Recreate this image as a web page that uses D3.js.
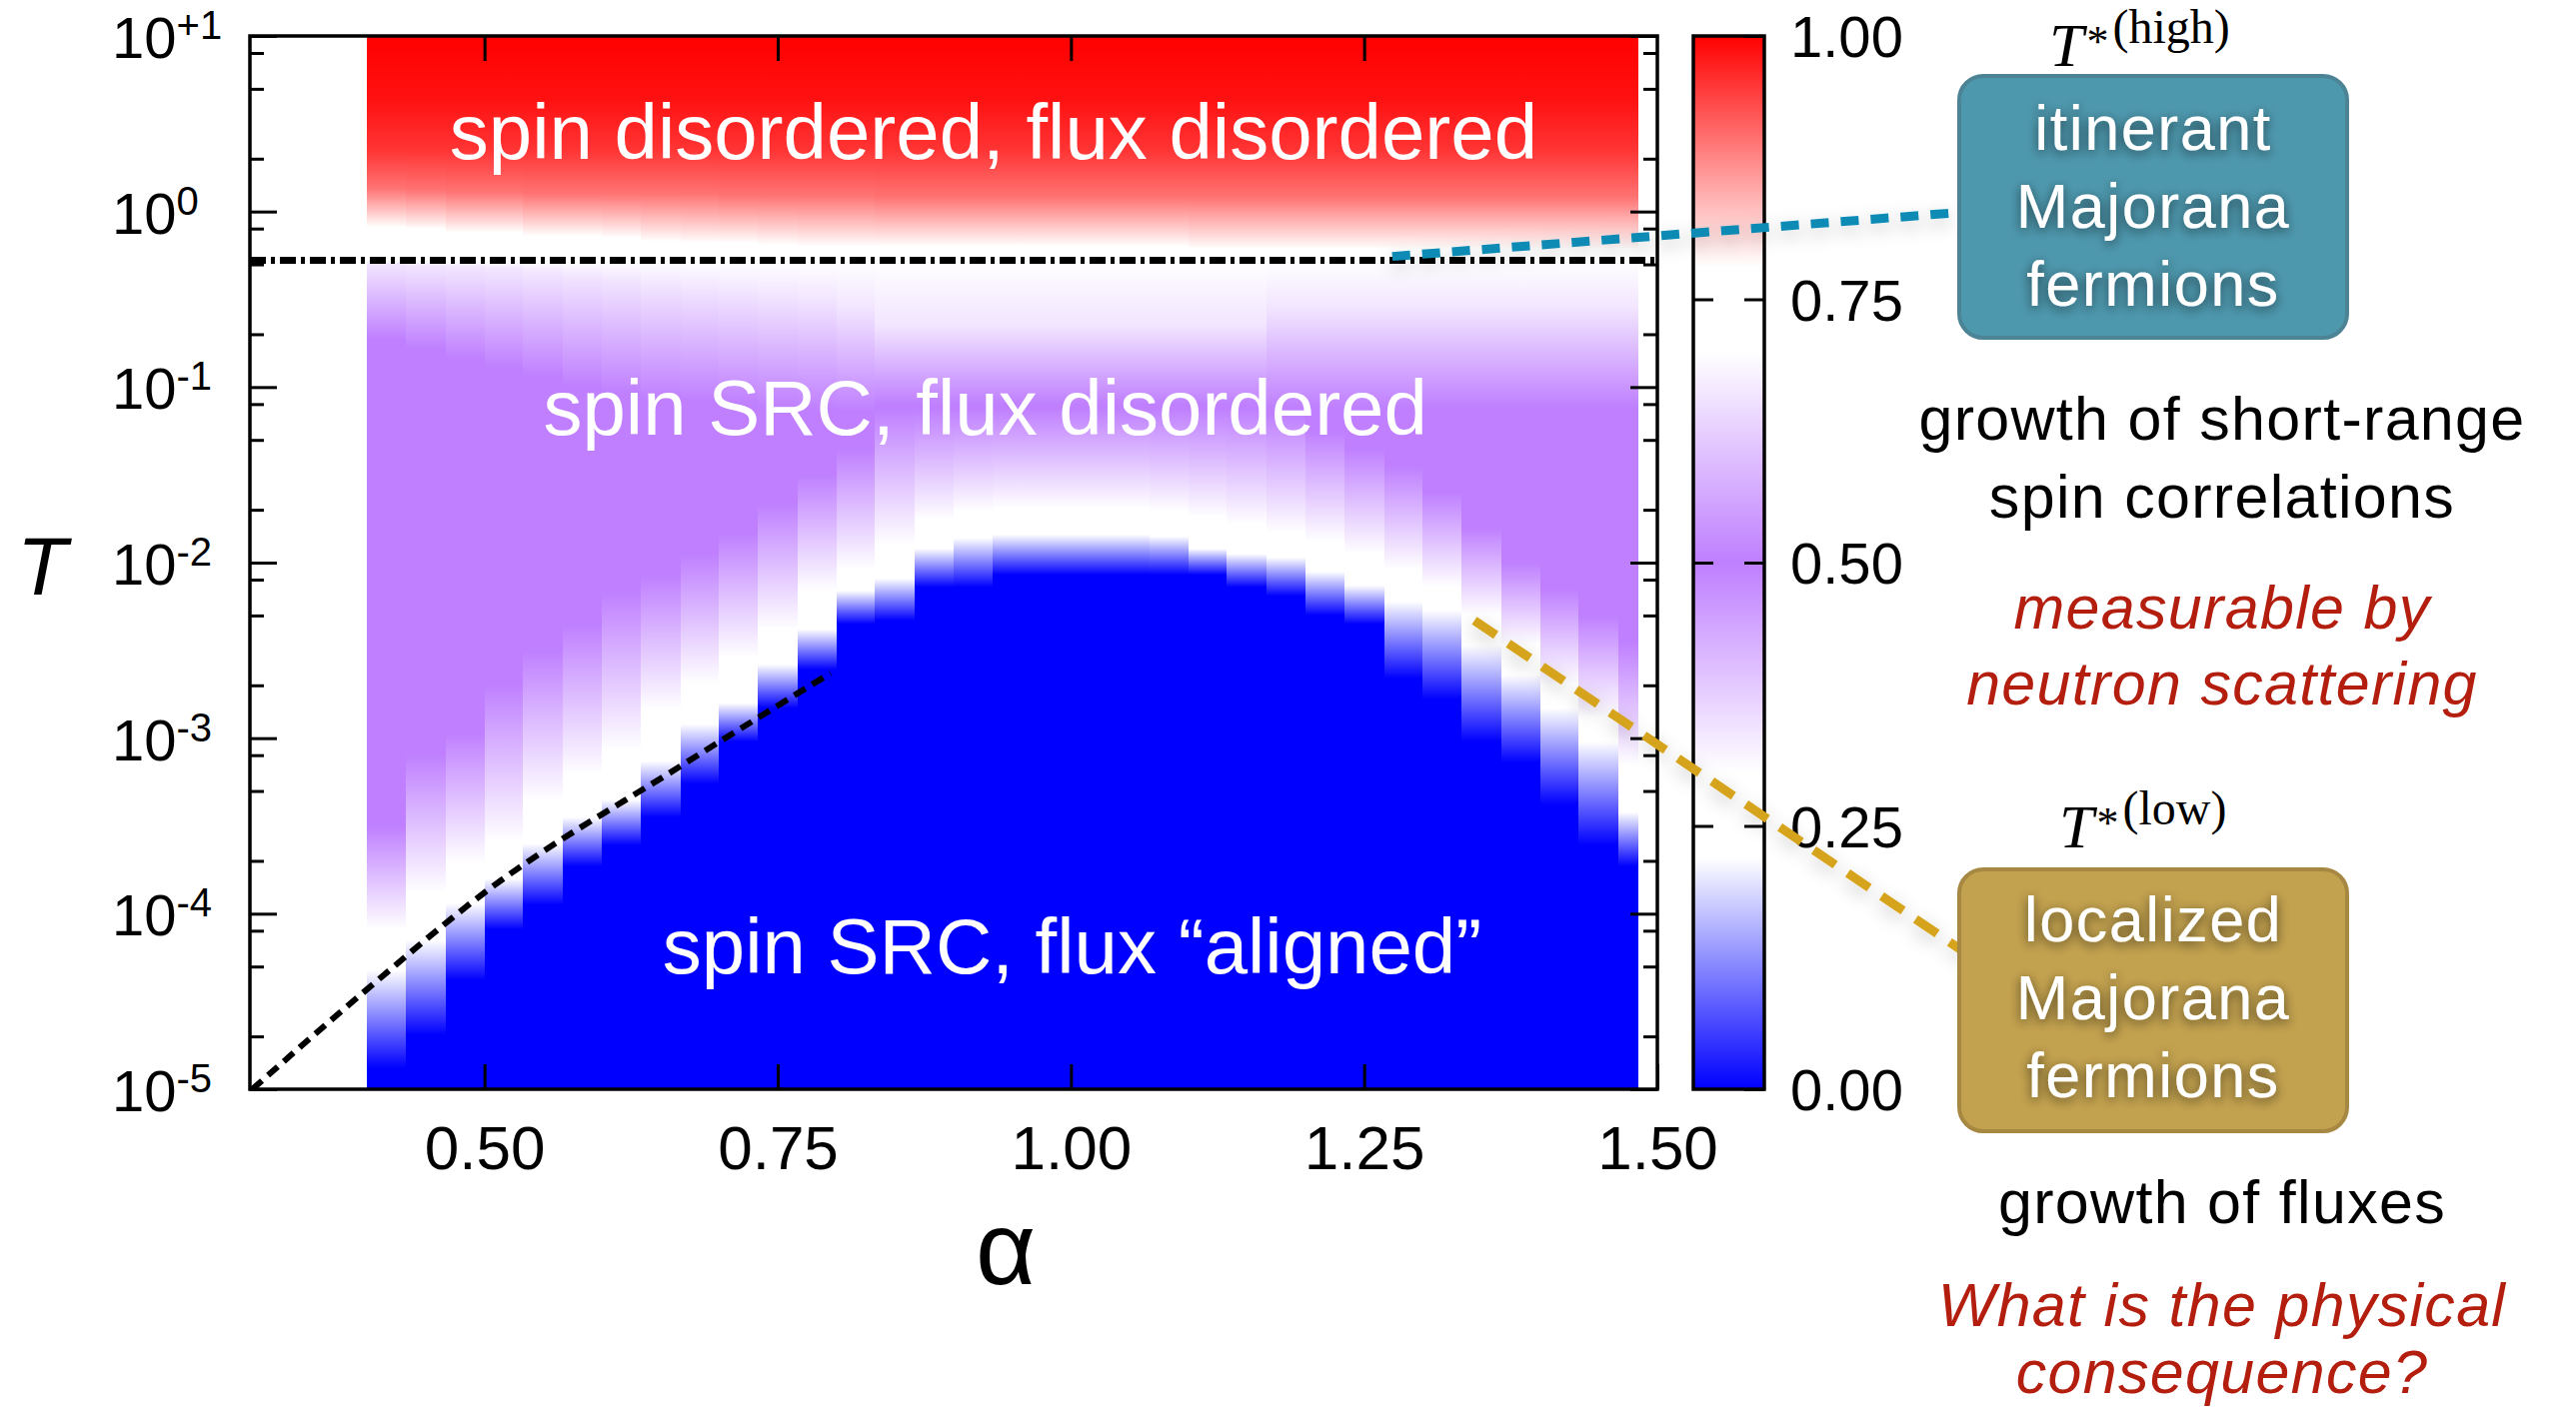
<!DOCTYPE html>
<html lang="en">
<head>
<meta charset="utf-8">
<title>alpha - T map</title>
<script src="https://d3js.org/d3.v7.min.js"></script>
<style>
  body{margin:0;background:#fff;}
  svg{display:block;font-family:"Liberation Sans",Arial,Helvetica,sans-serif;}
</style>
</head>
<body>
<div id="chart"></div>
<script>
// left edge of every alpha strip of the map (last strip stops at alphaEnd)
var alphaCols = [0.400,0.433,0.467,0.500,0.533,0.567,0.600,0.633,0.667,0.700,0.733,0.767,0.800,0.833,0.867,0.900,0.933,
                 0.967,1.000,1.033,1.067,1.100,1.133,1.167,1.200,1.233,1.267,1.300,1.333,1.367,1.400,1.433,1.467]
var alphaEnd = 1.483

// log10(T) where each strip passes a given value of the colour scale
var redTop = [[1, 1.0], [0.64, 0.985], [0.35, 0.955]]   // same for all strips
var redMid = [0.13,0.12,0.11,0.11,0.10,0.10,0.10,0.10,0.10,0.09,0.09,0.09,0.09,0.08,0.08,0.08,0.08,
              0.08,0.08,0.08,0.08,0.08,0.08,0.08,0.08,0.08,0.08,0.08,0.08,0.08,0.08,0.08,0.08]          // 0.90
var redEnd = [-0.09,-0.10,-0.12,-0.12,-0.14,-0.14,-0.15,-0.17,-0.18,-0.18,-0.19,-0.20,-0.20,-0.20,-0.20,-0.20,-0.20,
              -0.20,-0.20,-0.20,-0.20,-0.215,-0.215,-0.215,-0.215,-0.215,-0.215,-0.215,-0.215,-0.215,-0.215,-0.215,-0.215] // 0.78
var lavTop = [-0.30,-0.31,-0.32,-0.33,-0.35,-0.37,-0.39,-0.42,-0.44,-0.46,-0.48,-0.50,-0.55,-0.65,-0.65,-0.65,-0.65,
              -0.65,-0.65,-0.65,-0.65,-0.65,-0.65,-0.55,-0.55,-0.55,-0.55,-0.55,-0.55,-0.55,-0.55,-0.55,-0.55]   // 0.66
var purTop = [-0.73,-0.78,-0.84,-0.89,-0.94,-1.00,-1.04,-1.07,-1.08,-1.10,-1.12,-1.13,-1.14,-1.10,-1.10,-1.10,-1.10,
              -1.10,-1.10,-1.10,-1.10,-1.10,-1.10,-1.12,-1.12,-1.12,-1.12,-1.12,-1.12,-1.12,-1.12,-1.12,-1.12]   // 0.50
var purBot = [-3.50,-3.09,-2.97,-2.69,-2.50,-2.35,-2.16,-2.07,-1.95,-1.83,-1.66,-1.50,-1.35,-1.12,-1.12,-1.12,-1.12,
              -1.12,-1.12,-1.12,-1.12,-1.12,-1.12,-1.15,-1.25,-1.35,-1.45,-1.60,-1.80,-2.00,-2.15,-2.30,-2.45]   // 0.50
var whtTop = [-4.09,-3.88,-3.71,-3.59,-3.36,-3.21,-3.07,-2.84,-2.69,-2.54,-2.38,-2.16,-2.04,-1.90,-1.76,-1.71,-1.69,
              -1.69,-1.69,-1.69,-1.71,-1.74,-1.78,-1.83,-1.88,-1.95,-2.04,-2.14,-2.30,-2.47,-2.69,-2.88,-3.16]   // 0.30
var whtBot = [-4.32,-4.15,-3.94,-3.80,-3.60,-3.45,-3.35,-3.13,-2.92,-2.80,-2.58,-2.38,-2.16,-2.09,-1.92,-1.86,-1.84,
              -1.84,-1.84,-1.84,-1.85,-1.92,-1.95,-1.97,-2.05,-2.13,-2.22,-2.27,-2.47,-2.64,-2.83,-3.02,-3.42]   // 0.22
var bluBot = [-4.88,-4.69,-4.38,-4.09,-3.95,-3.73,-3.61,-3.45,-3.26,-3.02,-2.83,-2.61,-2.35,-2.33,-2.14,-2.14,-2.07,
              -2.07,-2.07,-2.07,-2.07,-2.07,-2.14,-2.19,-2.30,-2.35,-2.66,-2.78,-3.02,-3.14,-3.38,-3.61,-3.73]   // 0.00

// T*(high): dash-dot line, log10 T
var tHigh = -0.278
// T*(low) guide line (black dashes)
var lowAlpha = [0.302, 0.40, 0.50, 0.667, 0.795]
var lowLogT  = [-5.0, -4.43, -3.88, -3.16, -2.63]

var xTicks = [0.5, 0.75, 1.0, 1.25, 1.5]
var yDecades = [1, 0, -1, -2, -3, -4, -5]
var yMinor = [2, 5, 8]
var cbTicks = [0, 0.25, 0.5, 0.75, 1]
var cmapVals = [0, 0.22, 0.30, 0.50, 0.70, 0.78, 1]
var cmapCols = ["#0000ff", "#ffffff", "#ffffff", "#bf7fff", "#ffffff", "#ffffff", "#ff0000"]

// annotation anchors in data units [alpha, log10 T]
var highAnchor = [1.274, -0.256]
var lowAnchor = [1.344, -2.33]

var W = 2577, H = 1411
var svg = d3.select("#chart").append("svg").attr("width", W).attr("height", H)
svg.append("rect").attr("width", W).attr("height", H).attr("fill", "#fff")
var defs = svg.append("defs")

var x = d3.scaleLinear().domain([0.3, 1.5]).range([250, 1658])
var y = d3.scaleLog().domain([1e-5, 10]).range([1090, 36])
var color = d3.scaleLinear().domain(cmapVals).range(cmapCols)
var ly = function(l){ return y(Math.pow(10, l)) }

// ---- heat map, one vertical gradient per alpha strip
var yTop = y(10), yBot = y(1e-5)
alphaCols.forEach(function(a, i){
    var stops = redTop.concat([[redMid[i], 0.9], [redEnd[i], 0.78], [tHigh, 0.73], [lavTop[i], 0.66],
        [purTop[i], 0.5], [purBot[i], 0.5], [whtTop[i], 0.30], [whtBot[i], 0.22], [bluBot[i], 0], [-5, 0]])
    var g = defs.append("linearGradient").attr("id", "col" + i)
        .attr("gradientUnits", "userSpaceOnUse")
        .attr("x1", 0).attr("x2", 0).attr("y1", yTop).attr("y2", yBot)
    g.selectAll("stop").data(stops).enter().append("stop")
        .attr("offset", function(d){ return (ly(d[0]) - yTop) / (yBot - yTop) })
        .attr("stop-color", function(d){ return color(d[1]) })
})
svg.append("g").selectAll("rect").data(alphaCols).enter().append("rect")
    .attr("x", function(d){ return x(d) })
    .attr("width", function(d, i){ var nx = i < alphaCols.length - 1 ? alphaCols[i + 1] : alphaEnd; return x(nx) - x(d) + 0.6 })
    .attr("y", yTop).attr("height", yBot - yTop)
    .attr("fill", function(d, i){ return "url(#col" + i + ")" })
    .attr("shape-rendering", "crispEdges")

// ---- lines inside the map
svg.append("line")
    .attr("x1", x(0.3)).attr("x2", x(1.5)).attr("y1", ly(tHigh)).attr("y2", ly(tHigh))
    .attr("stroke", "#000").attr("stroke-width", 7).attr("stroke-dasharray", "16,5,4,5")

svg.append("path")
    .datum(lowAlpha.map(function(a, i){ return [a, lowLogT[i]] }))
    .attr("d", d3.line().x(function(d){ return x(d[0]) }).y(function(d){ return ly(d[1]) }).curve(d3.curveMonotoneX))
    .attr("fill", "none").attr("stroke", "#000").attr("stroke-width", 6).attr("stroke-dasharray", "13,8")

// ---- region labels
var regions = [
    {t: "spin disordered, flux disordered", a: 0.934, l: 0.30},
    {t: "spin SRC, flux disordered", a: 0.927, l: -1.27},
    {t: "spin SRC, flux \u201caligned\u201d", a: 1.001, l: -4.34}
]
svg.append("g").selectAll("text").data(regions).enter().append("text")
    .attr("x", function(d){ return x(d.a) }).attr("y", function(d){ return ly(d.l) })
    .attr("text-anchor", "middle").attr("font-size", 78).attr("fill", "#fff")
    .text(function(d){ return d.t })

// ---- frame and ticks
var axStyle = function(g){
    g.select(".domain").remove()
    g.selectAll(".tick line").attr("stroke", "#000").attr("stroke-width", 3)
}
svg.append("g").attr("transform", "translate(0,1090)")
    .call(d3.axisBottom(x).tickValues(xTicks).tickSize(-25).tickPadding(36).tickFormat(d3.format(".2f")))
    .call(axStyle)
    .selectAll("text").attr("font-size", 62).attr("fill", "#000").attr("font-family", "Liberation Sans, Arial, sans-serif")
svg.append("g").attr("transform", "translate(0,36)")
    .call(d3.axisTop(x).tickValues(xTicks.slice(0, 4)).tickSize(-25).tickFormat(""))
    .call(axStyle)

var minorVals = []
yDecades.slice(1).forEach(function(d){ yMinor.forEach(function(m){ minorVals.push(m * Math.pow(10, d)) }) })
var majorVals = yDecades.map(function(d){ return Math.pow(10, d) })
;[[d3.axisLeft, 250], [d3.axisRight, 1658]].forEach(function(p){
    svg.append("g").attr("transform", "translate(" + p[1] + ",0)")
        .call(p[0](y).tickValues(majorVals).tickSize(-27).tickFormat("")).call(axStyle)
    svg.append("g").attr("transform", "translate(" + p[1] + ",0)")
        .call(p[0](y).tickValues(minorVals).tickSize(-14).tickFormat("")).call(axStyle)
})
svg.append("rect").attr("x", 250).attr("y", 36).attr("width", 1408).attr("height", 1054)
    .attr("fill", "none").attr("stroke", "#000").attr("stroke-width", 3.5)

// y tick labels 10^n
var yl = svg.append("g").selectAll("text").data(yDecades).enter().append("text")
    .attr("x", 112).attr("y", function(d){ return y(Math.pow(10, d)) + 22 })
    .attr("font-size", 58).attr("fill", "#000")
yl.append("tspan").text("10")
yl.append("tspan").attr("font-size", 40).attr("dy", -19)
    .text(function(d){ return d > 0 ? "+" + d : String(d) })

// axis titles
svg.append("text").attr("x", 42).attr("y", 595).attr("text-anchor", "middle")
    .attr("font-size", 82).attr("font-style", "italic").text("T")
svg.append("text").attr("x", 1006).attr("y", 1285).attr("text-anchor", "middle")
    .attr("font-size", 104).text("\u03b1")

// ---- colour bar
var cb = d3.scaleLinear().domain([0, 1]).range([1090, 36])
var cg = defs.append("linearGradient").attr("id", "cbar").attr("x1", 0).attr("x2", 0).attr("y1", 1).attr("y2", 0)
cg.selectAll("stop").data(cmapVals).enter().append("stop")
    .attr("offset", function(d){ return d }).attr("stop-color", function(d){ return color(d) })
svg.append("rect").attr("x", 1694).attr("y", 36).attr("width", 71).attr("height", 1054).attr("fill", "url(#cbar)")
svg.append("g").attr("transform", "translate(1694,0)")
    .call(d3.axisLeft(cb).tickValues([0.25, 0.5, 0.75]).tickSize(-20).tickFormat("")).call(axStyle)
svg.append("g").attr("transform", "translate(1765,0)")
    .call(d3.axisRight(cb).tickValues(cbTicks).tickSize(-20).tickPadding(26).tickFormat(d3.format(".2f")))
    .call(axStyle)
    .selectAll("text").attr("font-size", 58).attr("fill", "#000").attr("dy", "0.36em")
    .attr("font-family", "Liberation Sans, Arial, sans-serif")
svg.append("rect").attr("x", 1694).attr("y", 36).attr("width", 71).attr("height", 1054)
    .attr("fill", "none").attr("stroke", "#000").attr("stroke-width", 3.5)

// ---- annotation side
var haze = defs.append("filter").attr("id", "haze").attr("x", "-10%").attr("y", "-60%").attr("width", "120%").attr("height", "220%")
haze.append("feGaussianBlur").attr("in", "SourceAlpha").attr("stdDeviation", 9)
haze.append("feOffset").attr("dy", 6).attr("result", "b")
haze.append("feFlood").attr("flood-color", "#000").attr("flood-opacity", 0.22)
haze.append("feComposite").attr("in2", "b").attr("operator", "in").attr("result", "s")
var hm = haze.append("feMerge")
hm.append("feMergeNode").attr("in", "s")
hm.append("feMergeNode").attr("in", "SourceGraphic")

var tsh = defs.append("filter").attr("id", "tsh").attr("x", "-20%").attr("y", "-40%").attr("width", "140%").attr("height", "180%")
tsh.append("feDropShadow").attr("dx", 0).attr("dy", 3).attr("stdDeviation", 6)
    .attr("flood-color", "#000").attr("flood-opacity", 0.6)

svg.append("line").attr("filter", "url(#haze)")
    .attr("x1", x(highAnchor[0])).attr("y1", ly(highAnchor[1])).attr("x2", 1955).attr("y2", 213)
    .attr("stroke", "#0e8bb5").attr("stroke-width", 9).attr("stroke-dasharray", "18,12")
svg.append("line").attr("filter", "url(#haze)")
    .attr("x1", x(lowAnchor[0])).attr("y1", ly(lowAnchor[1])).attr("x2", 1964).attr("y2", 952)
    .attr("stroke", "#d6a31c").attr("stroke-width", 9).attr("stroke-dasharray", "26,15")

var boxes = [
    {y: 76, fill: "#4e98ae", edge: "#4c8496", lines: ["itinerant", "Majorana", "fermions"], base: 150},
    {y: 870, fill: "#c3a24f", edge: "#a68842", lines: ["localized", "Majorana", "fermions"], base: 942}
]
boxes.forEach(function(b){
    svg.append("rect").attr("x", 1960).attr("y", b.y).attr("width", 388).attr("height", 262)
        .attr("rx", 24).attr("fill", b.fill).attr("stroke", b.edge).attr("stroke-width", 4)
    svg.append("g").attr("filter", "url(#tsh)").selectAll("text").data(b.lines).enter().append("text")
        .attr("x", 2154).attr("y", function(d, i){ return b.base + i * 78 })
        .attr("text-anchor", "middle").attr("font-size", 63).attr("letter-spacing", 1.5)
        .attr("fill", "#fff").text(function(d){ return d })
})

// T*(high), T*(low)
function tStar(x0, base, tag){
    var t = svg.append("text").attr("x", x0).attr("y", base)
        .attr("font-family", "Liberation Serif, Times New Roman, serif")
    t.append("tspan").attr("font-size", 62).attr("font-style", "italic").text("T")
    t.append("tspan").attr("font-size", 44).attr("dx", 3).attr("dy", -10).text("*")
    t.append("tspan").attr("font-size", 48).attr("dx", 4).attr("dy", -13).text("(" + tag + ")")
}
tStar(2050, 66, "high")
tStar(2060, 848, "low")

var notes = [
    {t: "growth of short-range", y: 440, red: false},
    {t: "spin correlations", y: 518, red: false},
    {t: "measurable by", y: 629, red: true},
    {t: "neutron scattering", y: 705, red: true},
    {t: "growth of fluxes", y: 1224, red: false},
    {t: "What is the physical", y: 1327, red: true},
    {t: "consequence?", y: 1394, red: true}
]
svg.append("g").selectAll("text").data(notes).enter().append("text")
    .attr("x", 2223).attr("y", function(d){ return d.y }).attr("text-anchor", "middle")
    .attr("font-size", 61).attr("letter-spacing", 1.3)
    .attr("font-style", function(d){ return d.red ? "italic" : "normal" })
    .attr("fill", function(d){ return d.red ? "#b41e0e" : "#000" })
    .text(function(d){ return d.t })
</script>
</body>
</html>
